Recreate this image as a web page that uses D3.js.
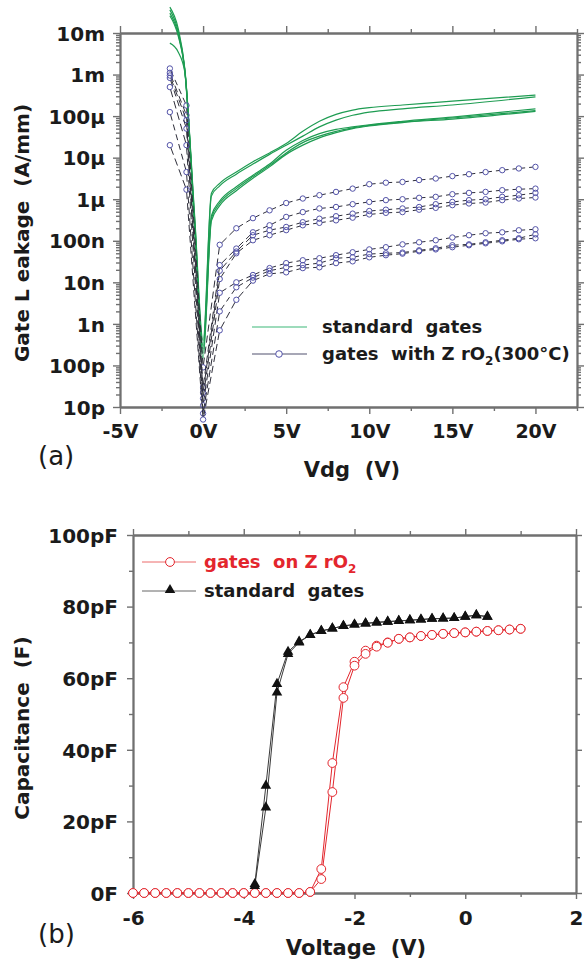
<!DOCTYPE html>
<html><head><meta charset="utf-8">
<script src="https://cdn.jsdelivr.net/npm/d3@7"></script>
<style>
body{margin:0;background:#fff}
svg{display:block}
text{font-family:"DejaVu Sans",sans-serif;white-space:pre}
</style>
</head><body><svg id="c" width="584" height="963"></svg>
<script>
// ---------------- DATA (panel a) ----------------
const leakTickValues = [1e-11,1e-10,1e-9,1e-8,1e-7,1e-6,1e-5,1e-4,1e-3,1e-2];
const leakTickLabels = ["10p","100p","1n","10n","100n","1µ","10µ","100µ","1m","10m"];
const vdgTickValues = [-5,0,5,10,15,20];
const vdgTickLabels = ["-5V","0V","5V","10V","15V","20V"];

const greenV = [-2,-1.5,-1.1,-0.5,0,0.5,1,2,3,4,5,6,7,8,9,10,12,15,20];
const green1 = [4.2e-2,1.3e-2,1.4e-3,3.5e-7,4e-10,1.4e-6,2.4e-6,4.5e-6,8e-6,1.3e-5,2.2e-5,4.3e-5,7.5e-5,1.1e-4,1.4e-4,1.6e-4,1.85e-4,2.3e-4,3.2e-4];
const green2 = [3.6e-2,1.1e-2,1.3e-3,3e-7,3e-10,1.2e-6,2.1e-6,4e-6,7e-6,1.2e-5,2e-5,3.3e-5,5.5e-5,8e-5,1.05e-4,1.25e-4,1.5e-4,1.85e-4,2.9e-4];
const green3 = [3.0e-2,9.5e-3,1.25e-3,2.5e-7,2.5e-10,4e-7,9e-7,2e-6,3.8e-6,7e-6,1.5e-5,2.6e-5,3.8e-5,4.8e-5,5.5e-5,6.2e-5,7.5e-5,9.5e-5,1.5e-4];
const green4 = [2.6e-2,8.5e-3,1.2e-3,2e-7,2e-10,3.5e-7,8e-7,1.8e-6,3.5e-6,6.5e-6,1.3e-5,2.3e-5,3.3e-5,4.3e-5,5.2e-5,6e-5,7.2e-5,9e-5,1.35e-4];
const green5 = [5.7e-3,3.5e-3,1.15e-3,1.7e-7,1.5e-10,3e-7,7e-7,1.6e-6,3.2e-6,6e-6,1.2e-5,2e-5,3e-5,4e-5,5e-5,5.8e-5,7e-5,8.5e-5,1.3e-4];

const zrV = [-2,-1,0,1,2,3,4,5,6,7,8,9,10,11,12,13,14,15,16,17,18,19,20];
const zrA = [1.4e-3,1.8e-4,9e-11,8e-8,2e-7,3.5e-7,5.4e-7,8.1e-7,1.04e-6,1.25e-6,1.5e-6,1.8e-6,2.3e-6,2.5e-6,2.6e-6,2.9e-6,3.15e-6,3.6e-6,4.0e-6,4.5e-6,5.0e-6,5.5e-6,6.0e-6];
const zrB = [1.1e-3,1.05e-4,3e-11,2.6e-8,6.5e-8,1.6e-7,2.36e-7,3.75e-7,4.9e-7,6.0e-7,6.5e-7,7.6e-7,8.6e-7,9.5e-7,1.0e-6,1.08e-6,1.14e-6,1.32e-6,1.42e-6,1.5e-6,1.65e-6,1.74e-6,1.8e-6];
const zrC = [9.5e-4,8e-5,2.2e-11,1.9e-8,5.5e-8,1.36e-7,1.8e-7,2.15e-7,2.8e-7,3.4e-7,3.9e-7,4.5e-7,5.2e-7,5.6e-7,6.0e-7,6.5e-7,7.6e-7,8.6e-7,9.5e-7,1.0e-6,1.14e-6,1.25e-6,1.42e-6];
const zrD = [8.3e-4,5e-5,1.6e-11,1.2e-8,5e-8,1.03e-7,1.36e-7,1.8e-7,2.36e-7,2.7e-7,3.1e-7,3.6e-7,4.3e-7,4.7e-7,4.9e-7,5.6e-7,6.2e-7,7.2e-7,7.9e-7,8.3e-7,9.5e-7,1.04e-6,1.1e-6];
const zrE = [5e-4,2e-5,1.1e-11,5.6e-9,1e-8,1.5e-8,2.2e-8,2.9e-8,3.4e-8,3.8e-8,4.5e-8,5.3e-8,6.2e-8,7.0e-8,8.2e-8,9.2e-8,1.03e-7,1.2e-7,1.36e-7,1.52e-7,1.6e-7,1.79e-7,1.89e-7];
const zrF = [1.25e-4,4.5e-6,7e-12,2e-9,7.6e-9,1.3e-8,1.9e-8,2.3e-8,2.6e-8,2.9e-8,3.8e-8,4.0e-8,4.8e-8,5.0e-8,5.2e-8,5.9e-8,6.6e-8,7.8e-8,8.2e-8,9.2e-8,1.03e-7,1.15e-7,1.43e-7];
const zrG = [2e-5,1.7e-6,5e-12,7e-10,3.8e-9,1.1e-8,1.6e-8,1.74e-8,2.2e-8,2.3e-8,2.9e-8,3.2e-8,4.0e-8,4.5e-8,4.9e-8,5.6e-8,6.2e-8,7.0e-8,7.8e-8,8.7e-8,9.7e-8,1.09e-7,1.15e-7];

// ---------------- DATA (panel b) ----------------
const capTickValues = [0,20,40,60,80,100];
const capTickLabels = ["0F","20pF","40pF","60pF","80pF","100pF"];
const voltTickValues = [-6,-4,-2,0,2];
const voltTickLabels = ["-6","-4","-2","0","2"];

const redV = [-6,-5.8,-5.6,-5.4,-5.2,-5,-4.8,-4.6,-4.4,-4.2,-4,-3.8,-3.6,-3.4,-3.2,-3,-2.8,-2.6,-2.4,-2.2,-2,-1.8,-1.6,-1.4,-1.2,-1,-0.8,-0.6,-0.4,-0.2,0,0.2,0.4,0.6,0.8,1];
const red1 = [0,0,0,0,0,0,0,0,0,0,0,0,0,0,0,0,0.3,6.7,36.3,57.5,64.6,67.7,69.1,70.0,71.0,71.4,71.8,72.1,72.4,72.6,72.8,73.0,73.2,73.4,73.6,73.8];
const red2 = [0,0,0,0,0,0,0,0,0,0,0,0,0,0,0,0,0.3,3.9,28.2,54.5,63.5,66.8,68.8,69.9,71.0,71.4,71.8,72.1,72.4,72.6,72.8,73.0,73.2,73.4,73.6,73.8];
const blkV = [-3.8,-3.6,-3.4,-3.2,-3,-2.8,-2.6,-2.4,-2.2,-2,-1.8,-1.6,-1.4,-1.2,-1,-0.8,-0.6,-0.4,-0.2,0,0.2,0.4];
const blk1 = [2.5,30,58.4,67.4,70.2,72.1,73.2,73.9,74.6,75.0,75.3,75.6,75.8,76.0,76.2,76.4,76.6,76.7,76.8,77.2,77.6,77.2];
const blk2 = [2.0,23.9,56.0,66.8,70.0,72.1,73.2,73.9,74.6,75.0,75.3,75.6,75.8,76.0,76.2,76.4,76.6,76.7,76.8,77.2,77.6,77.2];

// ---------------- DRAWING ----------------
const svg = d3.select("#c");
const AX = "#707070", TXT = "#1b1b1b";
const GREEN = "#1e9c52", NAVY = "#5252a8", RED = "#e3262d";

function styleAxis(g){
  g.select(".domain").attr("stroke", AX).attr("stroke-width", 1.8);
  g.selectAll(".tick line").attr("stroke", AX).attr("stroke-width", 1.4);
  g.selectAll("text").attr("fill", TXT).attr("font-weight", "bold")
    .attr("font-family", '"DejaVu Sans", sans-serif');
}

// ===== Panel (a) =====
const xa = d3.scaleLinear().domain([-5, 22.5]).range([120, 577]);
const ya = d3.scaleLog().domain([1e-11, 1e-2]).range([407, 33]);

const vdgMinor = [-2.5,2.5,7.5,12.5,17.5,22.5];
const leakMinor = [];
leakTickValues.slice(0, -1).forEach(p => { for (let m = 2; m <= 9; m++) leakMinor.push(p * m); });

function addAxis(axisFn, scale, transform, major, labels, minor, majLen, minLen, fs, labelOffset){
  const gMin = svg.append("g").attr("transform", transform)
    .call(axisFn(scale).tickValues(minor).tickSize(minLen).tickSizeOuter(0).tickFormat(""));
  styleAxis(gMin);
  const gMaj = svg.append("g").attr("transform", transform)
    .call(axisFn(scale).tickValues(major).tickSize(majLen).tickSizeOuter(0)
      .tickFormat(labels ? (d, i) => labels[i] : ""));
  styleAxis(gMaj);
  gMaj.selectAll("text").attr("font-size", fs);
  if (labelOffset !== undefined) gMaj.selectAll("text").attr("y", labelOffset).attr("dy", null);
  return gMaj;
}

addAxis(d3.axisBottom, xa, "translate(0,407)", vdgTickValues, vdgTickLabels, vdgMinor, 7, 4, 19, 31);
addAxis(d3.axisTop, xa, "translate(0,33)", vdgTickValues, null, vdgMinor, 7, 4, 19);
const gyl = addAxis(d3.axisLeft, ya, "translate(120,0)", leakTickValues, leakTickLabels, leakMinor, 7, 4, 20);
gyl.selectAll("text").attr("dy", "0.36em").attr("x", -15);
addAxis(d3.axisRight, ya, "translate(577,0)", leakTickValues, null, leakMinor, 7, 4, 20);

// green curves
const lineA = d3.line().x(d => xa(d[0])).y(d => ya(d[1])).curve(d3.curveMonotoneX);
[green1, green2, green3, green4, green5].forEach(s => {
  svg.append("path").datum(greenV.map((v, i) => [v, s[i]]))
    .attr("d", lineA).attr("fill", "none").attr("stroke", GREEN).attr("stroke-width", 1.2);
});

// ZrO2 curves: dashed segments between hollow circles
const R = 2.7;
const zrLayer = svg.append("g");
[zrA, zrB, zrC, zrD, zrE, zrF, zrG].forEach(s => {
  const pts = zrV.map((v, i) => [xa(v), ya(s[i])]);
  for (let i = 0; i < pts.length - 1; i++) {
    const [x0, y0] = pts[i], [x1, y1] = pts[i + 1];
    const L = Math.hypot(x1 - x0, y1 - y0);
    const A = L - 2 * R;
    if (A <= 2) continue;
    const g0 = 4, d0 = 7;
    const n = Math.max(2, Math.round((A + g0) / (d0 + g0)));
    const d = (A - (n - 1) * g0) / n;
    const arr = [0, R];
    for (let k = 0; k < n; k++) { arr.push(d); arr.push(k < n - 1 ? g0 : R + 50); }
    zrLayer.append("line").attr("x1", x0).attr("y1", y0).attr("x2", x1).attr("y2", y1)
      .attr("stroke", "#2e2e3a").attr("stroke-width", 1).attr("stroke-dasharray", arr.join(" "));
  }
  zrLayer.selectAll(null).data(pts).enter().append("circle")
    .attr("cx", d => d[0]).attr("cy", d => d[1]).attr("r", R)
    .attr("fill", "none").attr("stroke", NAVY).attr("stroke-width", 1);
});

// legend (a)
svg.append("line").attr("x1", 252).attr("x2", 307).attr("y1", 327).attr("y2", 327)
  .attr("stroke", "#3cb878").attr("stroke-width", 1.2);
svg.append("line").attr("x1", 252).attr("x2", 307).attr("y1", 354).attr("y2", 354)
  .attr("stroke", "#50506e").attr("stroke-width", 1.2);
svg.append("circle").attr("cx", 279).attr("cy", 354).attr("r", 3.3)
  .attr("fill", "#fff").attr("stroke", NAVY).attr("stroke-width", 1);
svg.append("text").attr("x", 322).attr("y", 333).attr("font-size", 18).attr("font-weight", "bold")
  .attr("fill", TXT).text("standard  gates");
const t2 = svg.append("text").attr("x", 322).attr("y", 360).attr("font-size", 18).attr("font-weight", "bold").attr("fill", TXT);
t2.append("tspan").text("gates  with Z rO");
t2.append("tspan").attr("font-size", 12).attr("dy", 5).text("2");
t2.append("tspan").attr("dy", -5).text("(300°C)");

// labels (a)
svg.append("text").attr("x", 352).attr("y", 477).attr("text-anchor", "middle")
  .attr("font-size", 21).attr("font-weight", "bold").attr("fill", TXT).text("Vdg  (V)");
svg.append("text").attr("transform", "translate(29,233) rotate(-90)").attr("text-anchor", "middle")
  .attr("font-size", 20).attr("font-weight", "bold").attr("fill", TXT).text("Gate L eakage  (A/mm)");
svg.append("text").attr("x", 38).attr("y", 465).attr("font-size", 26).attr("fill", TXT).text("(a)");

// ===== Panel (b) =====
const xb = d3.scaleLinear().domain([-6, 2]).range([133, 576]);
const yb = d3.scaleLinear().domain([0, 100]).range([893, 535]);
const voltMinor = [-5,-3,-1,1];
const capMinor = [10,30,50,70,90];

addAxis(d3.axisBottom, xb, "translate(0,893)", voltTickValues, voltTickLabels, voltMinor, 6, 4, 20, 32);
addAxis(d3.axisTop, xb, "translate(0,535)", voltTickValues, null, voltMinor, 6, 4, 20);
const gyb = addAxis(d3.axisLeft, yb, "translate(133,0)", capTickValues, capTickLabels, capMinor, 6, 4, 20);
gyb.selectAll("text").attr("dy", "0.36em").attr("x", -15);
addAxis(d3.axisRight, yb, "translate(576,0)", capTickValues, null, capMinor, 6, 4, 20);

const lineB = d3.line().x(d => xb(d[0])).y(d => yb(d[1]));
[red1, red2].forEach(s => {
  svg.append("path").datum(redV.map((v, i) => [v, s[i]])).attr("d", lineB)
    .attr("fill", "none").attr("stroke", RED).attr("stroke-width", 1);
});
[blk1, blk2].forEach(s => {
  svg.append("path").datum(blkV.map((v, i) => [v, s[i]])).attr("d", lineB)
    .attr("fill", "none").attr("stroke", "#3a3a3a").attr("stroke-width", 1);
});
[red1, red2].forEach(s => {
  svg.append("g").selectAll("circle").data(redV.map((v, i) => [v, s[i]])).enter().append("circle")
    .attr("cx", d => xb(d[0])).attr("cy", d => yb(d[1])).attr("r", 4.4)
    .attr("fill", "#fff").attr("stroke", RED).attr("stroke-width", 1);
});
const tri = d3.symbol().type(d3.symbolTriangle).size(48);
[blk1, blk2].forEach(s => {
  svg.append("g").selectAll("path").data(blkV.map((v, i) => [v, s[i]])).enter().append("path")
    .attr("d", tri).attr("transform", d => `translate(${xb(d[0])},${yb(d[1])})`).attr("fill", "#111");
});

// legend (b)
svg.append("line").attr("x1", 142).attr("x2", 196).attr("y1", 562).attr("y2", 562)
  .attr("stroke", "#ec6b6b").attr("stroke-width", 1);
svg.append("circle").attr("cx", 170).attr("cy", 562).attr("r", 4.4)
  .attr("fill", "#fff").attr("stroke", RED).attr("stroke-width", 1);
svg.append("line").attr("x1", 142).attr("x2", 196).attr("y1", 591).attr("y2", 591)
  .attr("stroke", "#666").attr("stroke-width", 1);
svg.append("path").attr("d", tri).attr("transform", "translate(170,590)").attr("fill", "#111");
const t3 = svg.append("text").attr("x", 204).attr("y", 568).attr("font-size", 18).attr("font-weight", "bold").attr("fill", RED);
t3.append("tspan").text("gates  on Z rO");
t3.append("tspan").attr("font-size", 12).attr("dy", 5).text("2");
svg.append("text").attr("x", 204).attr("y", 597).attr("font-size", 18).attr("font-weight", "bold")
  .attr("fill", TXT).text("standard  gates");

// labels (b)
svg.append("text").attr("x", 356).attr("y", 955).attr("text-anchor", "middle")
  .attr("font-size", 21).attr("font-weight", "bold").attr("fill", TXT).text("Voltage  (V)");
svg.append("text").attr("transform", "translate(29,728) rotate(-90)").attr("text-anchor", "middle")
  .attr("font-size", 20).attr("font-weight", "bold").attr("fill", TXT).text("Capacitance  (F)");
svg.append("text").attr("x", 38).attr("y", 943).attr("font-size", 26).attr("fill", TXT).text("(b)");
</script>
</body></html>
